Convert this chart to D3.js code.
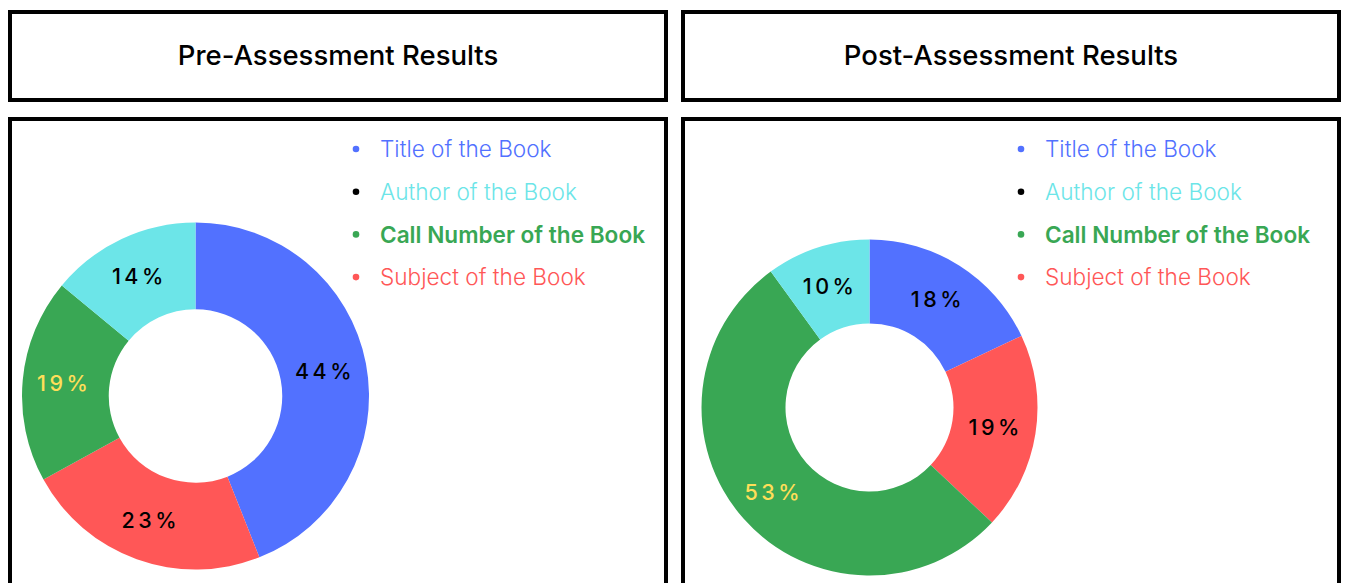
<html lang="en">
<head>
    <meta charset="utf-8">
    <title>Assessment Results</title>
    <script src="https://cdn.jsdelivr.net/npm/d3@7"></script>
    <style>
        body { margin: 0; background: #fff; }
        text { font-family: Inter, "Noto Sans", sans-serif; }
    </style>
</head>
<body>
<script>
    // legend order
    var categories = ["Title of the Book", "Author of the Book", "Call Number of the Book", "Subject of the Book"];
    var textColors = ["#5271ff", "#6ce5e8", "#39a754", "#ff5757"];
    var dotColors  = ["#5271ff", "#000000", "#39a754", "#ff5757"];
    var sliceColors = ["#5271ff", "#6ce5e8", "#39a754", "#ff5757"];
    // slices go clockwise from 12 o'clock in this order (indexes into categories)
    var sliceOrder = [0, 3, 2, 1];
    var preValues  = [44, 14, 19, 23];
    var postValues = [18, 10, 53, 19];
    var titles = ["Pre-Assessment Results", "Post-Assessment Results"];

    var w = 1345, h = 583;
    var svg = d3.select("body").append("svg").attr("width", w).attr("height", h);

    var panels = [
        {title: titles[0], values: preValues,  x: 10,  cx: 195.5, cy: 396, r: 173.5, lx: 356},
        {title: titles[1], values: postValues, x: 683, cx: 869.5, cy: 407.5, r: 168, lx: 1021}
    ];
    var boxW = 656;

    panels.forEach(function(p) {
        // title box
        svg.append("rect")
            .attr("x", p.x).attr("y", 12)
            .attr("width", boxW).attr("height", 88)
            .attr("fill", "none").attr("stroke", "#000").attr("stroke-width", 4);
        svg.append("text")
            .attr("x", p.x + boxW / 2).attr("y", 65)
            .attr("text-anchor", "middle")
            .attr("font-size", "27.5px").attr("font-weight", 500)
            .attr("fill", "#000")
            .text(p.title);
        // chart box
        svg.append("rect")
            .attr("x", p.x).attr("y", 119)
            .attr("width", boxW).attr("height", 500)
            .attr("fill", "none").attr("stroke", "#000").attr("stroke-width", 4);

        var data = sliceOrder.map(function(i) { return {cat: i, value: p.values[i]}; });
        var pie = d3.pie().sort(null).value(function(d) { return d.value; });
        var arc = d3.arc().innerRadius(p.r * 0.5).outerRadius(p.r);
        var labelArc = d3.arc().innerRadius(p.r * 0.76).outerRadius(p.r * 0.76);

        var g = svg.append("g").attr("transform", "translate(" + p.cx + "," + p.cy + ")");
        var arcs = pie(data);
        g.selectAll("path")
            .data(arcs)
            .enter()
            .append("path")
            .attr("d", arc)
            .attr("fill", function(d) { return sliceColors[d.data.cat]; });
        g.selectAll("text")
            .data(arcs)
            .enter()
            .append("text")
            .attr("transform", function(d) { return "translate(" + labelArc.centroid(d) + ")"; })
            .attr("dy", "0.36em")
            .attr("text-anchor", "middle")
            .attr("font-size", "21.5px")
            .attr("font-weight", 500)
            .attr("letter-spacing", "3.5px")
            .attr("fill", function(d) { return d.data.cat === 2 ? "#ffde59" : "#000"; })
            .text(function(d) { return d.data.value + "%"; });

        // legend
        var leg = svg.append("g");
        var rows = leg.selectAll("g")
            .data(categories)
            .enter()
            .append("g")
            .attr("transform", function(d, i) { return "translate(" + p.lx + "," + (149 + i * 42.7) + ")"; });
        rows.append("circle")
            .attr("r", 3.3)
            .attr("fill", function(d, i) { return dotColors[i]; });
        rows.append("text")
            .attr("x", 24)
            .attr("dy", "0.36em")
            .attr("font-size", "22.6px")
            .attr("font-weight", function(d, i) { return i === 2 ? 600 : 300; })
            .attr("fill", function(d, i) { return textColors[i]; })
            .text(function(d) { return d; });
    });
</script>
</body>
</html>
